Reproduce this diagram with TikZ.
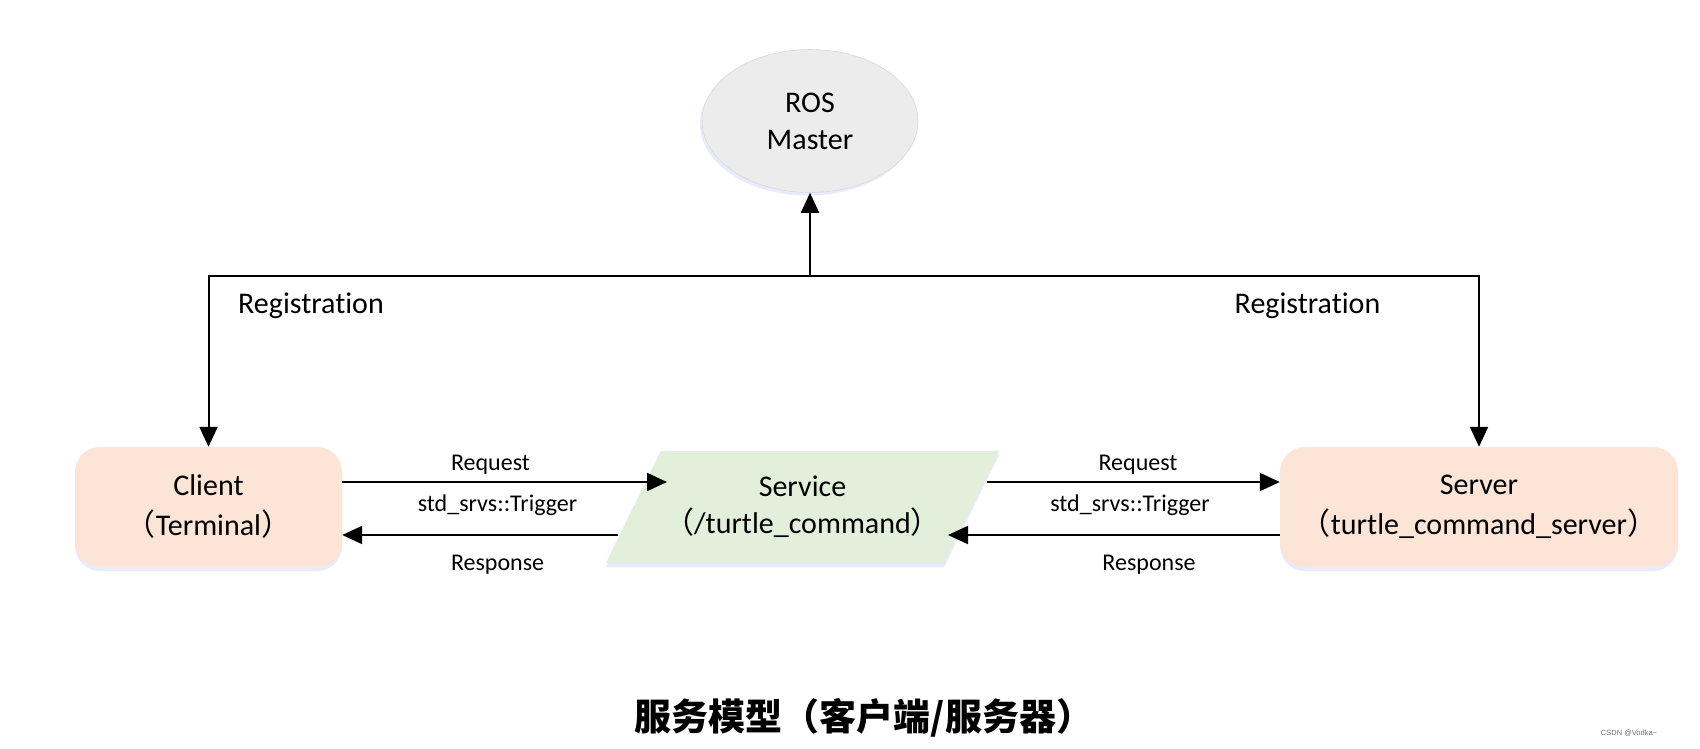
\documentclass[tikz,border=0pt]{standalone}
\usepackage{fontspec}
\setmainfont[RawFeature={-liga;-clig;-dlig}]{Carlito}
\newfontfamily\cjk{Noto Sans CJK SC}
\newfontfamily\wmfont{Liberation Sans}
\usetikzlibrary{arrows.meta,shapes.geometric,shadows}
\definecolor{peach}{HTML}{FCE4D6}
\definecolor{paleg}{HTML}{E2EFDA}
\definecolor{mgray}{HTML}{ECECEC}
\tikzset{
  arr/.style={line width=2pt,-{Triangle[length=20pt,width=18pt]}},
  boxnode/.style={rectangle,rounded corners=25pt,fill=peach,minimum height=120pt,
    align=center,font=\fontsize{30}{40}\selectfont,
    drop shadow={shadow xshift=0pt,shadow yshift=-4pt,fill=blue!20,opacity=0.4}},
  lbl/.style={font=\fontsize{24}{28}\selectfont,inner sep=0pt},
  reglbl/.style={font=\fontsize{30}{36}\selectfont,inner sep=0pt},
}
\begin{document}
\begin{tikzpicture}[x=1pt,y=-1pt]
\useasboundingbox (0,0) rectangle (1700,748);
\fill[white] (0,0) rectangle (1700,748);
% master
\node[ellipse,fill=mgray,draw=black!15,line width=0.6pt,minimum width=216pt,minimum height=143pt,
  align=center,font=\fontsize{30}{37}\selectfont,
  drop shadow={shadow xshift=-2pt,shadow yshift=-3pt,fill=blue!20,opacity=0.4}]
  (master) at (810,121) {ROS\\Master};
% client and server
\node[boxnode,minimum width=267pt] (client) at (208.5,507) {Client\\{\cjk （}Terminal{\cjk ）}};
\node[boxnode,minimum width=398pt] (server) at (1479,507) {Server\\{\cjk （}turtle\_command\_server{\cjk ）}};
% service
\node[trapezium,trapezium left angle=51.2,trapezium right angle=128.8,trapezium stretches=true,
  minimum width=391pt,minimum height=112pt,fill=paleg,align=center,
  font=\fontsize{30}{37}\selectfont,
  drop shadow={shadow xshift=0pt,shadow yshift=-4pt,fill=blue!20,opacity=0.4}]
  (svc) at (802.5,507) {Service\\{\cjk （}/turtle\_command{\cjk ）}};
% registration
\coordinate (hub) at (810,276);
\draw[arr] (hub) -- (master.south);
\draw[arr] (hub) -| (client.north);
\draw[arr] (hub) -| (server.north);
\node[reglbl] (regl) at (311,306) {Registration};
\node[reglbl] (regr) at (1307.5,306) {Registration};
% requests / responses
\draw[arr] ([yshift=25pt]client.east) -- ([xshift=-135.5pt,yshift=25pt]svc.center);
\draw[arr] ([xshift=-184.5pt,yshift=-28pt]svc.center) -- ([yshift=-28pt]client.east);
\draw[arr] ([xshift=184.5pt,yshift=25pt]svc.center) -- ([yshift=25pt]server.west);
\draw[arr] ([yshift=-28pt]server.west) -- ([xshift=145.5pt,yshift=-28pt]svc.center);
\node[lbl] (rq1) at (490.5,465) {Request};
\node[lbl] (tr1) at (497.5,505) {std\_srvs::Trigger};
\node[lbl] (rs1) at (497.6,565) {Response};
\node[lbl] (rq2) at (1138,465) {Request};
\node[lbl] (tr2) at (1130,505) {std\_srvs::Trigger};
\node[lbl] (rs2) at (1149,565) {Response};
% caption
\node[font=\cjk\bfseries\fontsize{37}{44}\selectfont,inner sep=0pt] (cap) at (864,718) {服务模型（客户端/服务器）};
\node[font=\wmfont\fontsize{7.5}{9}\selectfont,text=black!55,inner sep=0pt] (wm) at (1629,733) {CSDN @Vodka\textasciitilde};
\end{tikzpicture}
\end{document}
